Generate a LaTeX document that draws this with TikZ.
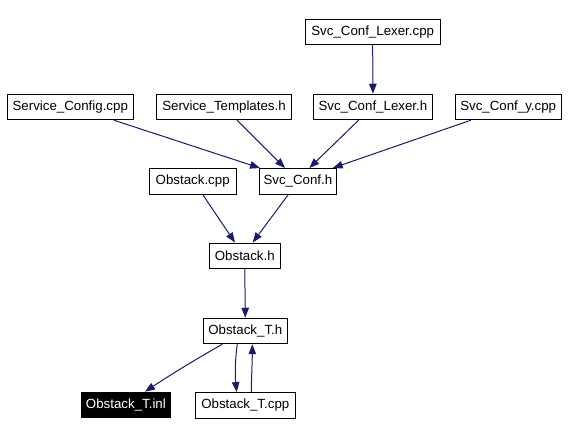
\documentclass[tikz,border=0pt]{standalone}
\usepackage{fontspec}
\setmainfont{Liberation Sans}
\usetikzlibrary{arrows.meta,calc}
\definecolor{edgec}{HTML}{191970}
\begin{document}
\begin{tikzpicture}[x=1pt,y=-1pt,
  box/.style={draw=black,line width=1pt,rectangle,inner sep=0pt,minimum height=25.5pt,font=\fontsize{13.3}{16}\selectfont},
  dep/.style={draw=edgec,line width=1pt,-{Triangle[length=10pt,width=7.5pt]}}]
\useasboundingbox (0,0) rectangle (568,435);
\node[box,minimum width=134.8pt] (lexcpp) at (372.7,31.8) {Svc\_Conf\_Lexer.cpp};
\node[box,minimum width=126.1pt] (sconf) at (70.25,107) {Service\_Config.cpp};
\node[box,minimum width=135pt] (stempl) at (224,107) {Service\_Templates.h};
\node[box,minimum width=118.4pt] (lexh) at (372.9,107) {Svc\_Conf\_Lexer.h};
\node[box,minimum width=105.7pt] (confy) at (508.2,107) {Svc\_Conf\_y.cpp};
\node[box,minimum width=87pt] (obcpp) at (192.7,181.3) {Obstack.cpp};
\node[box,minimum width=77.2pt] (confh) at (297.9,181.3) {Svc\_Conf.h};
\node[box,minimum width=71pt] (obh) at (244.8,255.8) {Obstack.h};
\node[box,minimum width=84pt] (obth) at (245.3,331) {Obstack\_T.h};
\node[box,minimum width=89.7pt,fill=black,text=white] (obtinl) at (125.9,405) {Obstack\_T.inl};
\node[box,minimum width=100pt] (obtcpp) at (245.3,405.3) {Obstack\_T.cpp};

\draw[dep] (lexcpp.south) -- (lexh.north);
\draw[dep] ($(sconf.south)+(43.75,0)$) -- ($(confh.north)+(-37.9,0)$);
\draw[dep] ($(stempl.south)+(13.2,0)$) -- ($(confh.north)+(-12.9,0)$);
\draw[dep] ($(lexh.south)+(-14.3,0)$) -- ($(confh.north)+(11.4,0)$);
\draw[dep] ($(confy.south)+(-37.4,0)$) -- ($(confh.north)+(34.8,0)$);
\draw[dep] ($(obcpp.south)+(10,0)$) -- ($(obh.north)+(-9.8,0)$);
\draw[dep] ($(confh.south)+(-9.6,0)$) -- ($(obh.north)+(7.9,0)$);
\draw[dep] (obh.south) -- (obth.north);
\draw[dep] ($(obth.south)+(-23,0)$) .. controls (198,358) and (170,375) .. ($(obtinl.north)+(19.1,0)$);
\draw[dep] ($(obth.south)+(-8,0)$) .. controls (235,360) and (235,376) .. ($(obtcpp.north)+(-8.6,0)$);
\draw[dep] ($(obtcpp.north)+(6,0)$) .. controls (251.5,376) and (252.3,360) .. ($(obth.south)+(7,0)$);
\end{tikzpicture}
\end{document}
